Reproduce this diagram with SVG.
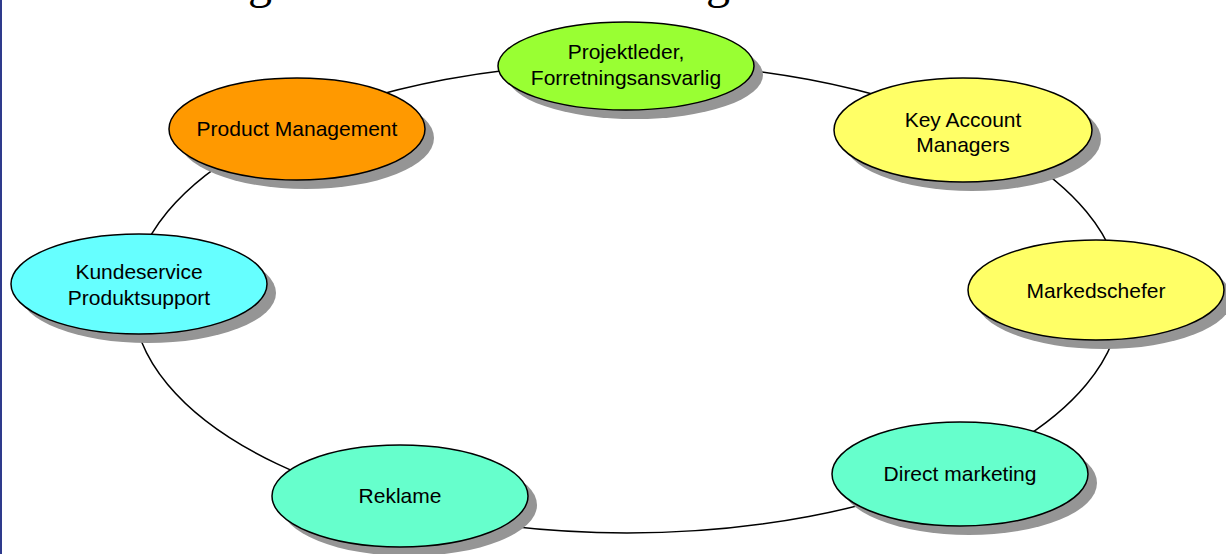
<svg xmlns="http://www.w3.org/2000/svg" width="1226" height="554" viewBox="0 0 1226 554">
<style>
.lbl{font-family:"Liberation Sans",Arial,sans-serif;font-size:21px;fill:#000;text-anchor:middle}
.node{stroke:#000;stroke-width:1.5}
.shadow{fill:#959595}
.title{font-family:"Liberation Serif","Times New Roman",serif;font-size:48px;fill:#000}
</style>
<rect width="1226" height="554" fill="#fff"/>
<rect x="0" y="0" width="2" height="554" fill="#2e3a8c"/>
<text class="title" x="248" y="-2">g</text>
<text class="title" x="706" y="-2">g</text>
<g id="connectors">
<ellipse cx="627" cy="298" rx="494" ry="235" fill="none" stroke="#000" stroke-width="1.5"/>
</g>
<g id="node-projektleder">
<ellipse class="shadow" cx="635" cy="75" rx="128" ry="44"/>
<ellipse class="node" cx="626" cy="66" rx="128" ry="44" fill="#99ff33"/>
<text class="lbl" x="626" y="59">Projektleder,</text>
<text class="lbl" x="626" y="85">Forretningsansvarlig</text>
</g>
<g id="node-product">
<ellipse class="shadow" cx="306" cy="138" rx="128" ry="51"/>
<ellipse class="node" cx="297" cy="129" rx="128" ry="51" fill="#ff9900"/>
<text class="lbl" x="297" y="136">Product Management</text>
</g>
<g id="node-keyaccount">
<ellipse class="shadow" cx="972" cy="139" rx="129" ry="52"/>
<ellipse class="node" cx="963" cy="130" rx="129" ry="52" fill="#ffff66"/>
<text class="lbl" x="963" y="127">Key Account</text>
<text class="lbl" x="963" y="152">Managers</text>
</g>
<g id="node-markedschefer">
<ellipse class="shadow" cx="1104" cy="299" rx="128" ry="50"/>
<ellipse class="node" cx="1096" cy="290" rx="128" ry="50" fill="#ffff66"/>
<text class="lbl" x="1096" y="298">Markedschefer</text>
</g>
<g id="node-kundeservice">
<ellipse class="shadow" cx="148" cy="293" rx="128" ry="50"/>
<ellipse class="node" cx="139" cy="284" rx="128" ry="50" fill="#66ffff"/>
<text class="lbl" x="139" y="279">Kundeservice</text>
<text class="lbl" x="139" y="305">Produktsupport</text>
</g>
<g id="node-reklame">
<ellipse class="shadow" cx="409" cy="505" rx="128" ry="51"/>
<ellipse class="node" cx="400" cy="496" rx="128" ry="51" fill="#66ffcc"/>
<text class="lbl" x="400" y="503">Reklame</text>
</g>
<g id="node-direct">
<ellipse class="shadow" cx="969" cy="483" rx="128" ry="52"/>
<ellipse class="node" cx="960" cy="474" rx="128" ry="52" fill="#66ffcc"/>
<text class="lbl" x="960" y="481">Direct marketing</text>
</g>
</svg>
